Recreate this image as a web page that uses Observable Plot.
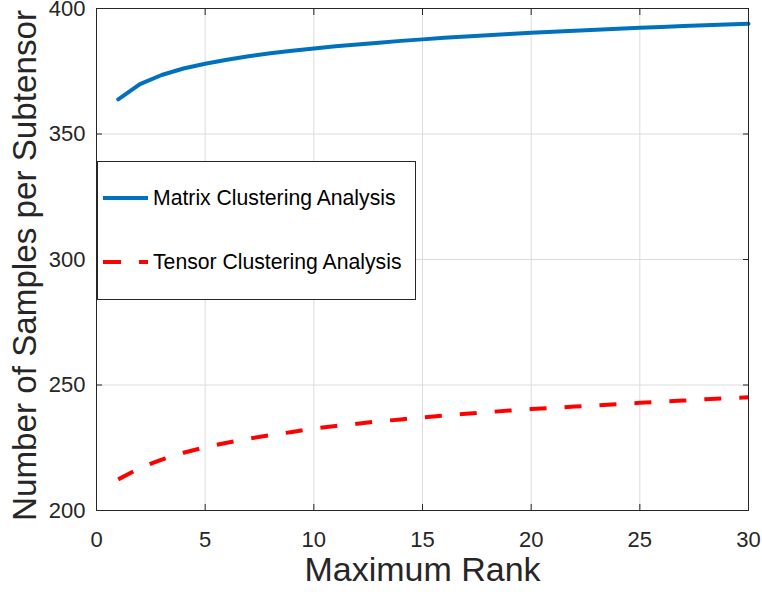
<!DOCTYPE html>
<html>
<head>
<meta charset="utf-8">
<script src="https://cdn.jsdelivr.net/npm/d3@7"></script>
<script src="https://cdn.jsdelivr.net/npm/@observablehq/plot@0.6"></script>
<style>
  html, body { margin: 0; padding: 0; background: #fff; }
  #wrap { position: relative; width: 762px; height: 592px; font-family: "Liberation Sans", Arial, Helvetica, sans-serif; }
  #wrap svg { overflow: visible; }
  #legend { position: absolute; left: 97px; top: 161px; width: 319px; height: 139px; border: 1px solid #262626; background: #fff; box-sizing: border-box; }
  .row { position: absolute; left: 5px; display: flex; align-items: center; font-size: 21.2px; color: #000; white-space: nowrap; }
  .row svg { margin-right: 5px; }
</style>
</head>
<body>
<div id="wrap"></div>
<script>
const ranks = d3.range(1, 31);
const matrixValues = [363.8, 369.9, 373.5, 376.1, 378.0, 379.6, 381.0, 382.2, 383.2, 384.1,
  385.0, 385.7, 386.4, 387.1, 387.7, 388.3, 388.8, 389.3, 389.8, 390.3,
  390.7, 391.1, 391.5, 391.9, 392.3, 392.6, 393.0, 393.3, 393.6, 393.9];
const tensorValues = [212.4, 217.0, 220.3, 223.0, 225.2, 227.0, 228.6, 230.0, 231.3, 232.7,
  233.7, 234.6, 235.5, 236.3, 237.1, 237.8, 238.5, 239.2, 239.8, 240.4,
  240.9, 241.4, 241.9, 242.4, 242.9, 243.4, 243.8, 244.3, 244.7, 245.1];
const seriesNames = ["Matrix Clustering Analysis", "Tensor Clustering Analysis"];
const xTicks = [0, 5, 10, 15, 20, 25, 30];
const yTicks = [200, 250, 300, 350, 400];
const xLabel = "Maximum Rank";
const yLabel = "Number of Samples per Subtensor";

const matrix = ranks.map((r, i) => ({rank: r, value: matrixValues[i]}));
const tensor = ranks.map((r, i) => ({rank: r, value: tensorValues[i]}));

const axisColor = "#262626";
const chart = Plot.plot({
  width: 762,
  height: 592,
  marginLeft: 96,
  marginRight: 14,
  marginTop: 8,
  marginBottom: 82,
  style: {fontFamily: "'Liberation Sans', Arial, Helvetica, sans-serif", background: "#fff", overflow: "visible"},
  x: {domain: [0, 30]},
  y: {domain: [200, 400]},
  marks: [
    Plot.gridX(xTicks, {stroke: "#dcdcdc", strokeOpacity: 1, strokeWidth: 1}),
    Plot.gridY(yTicks, {stroke: "#dcdcdc", strokeOpacity: 1, strokeWidth: 1}),
    Plot.line(matrix, {x: "rank", y: "value", stroke: "#0072BD", strokeWidth: 4}),
    Plot.line(tensor, {x: "rank", y: "value", stroke: "#FF0000", strokeWidth: 4, strokeDasharray: "17 18", strokeLinecap: "butt"}),
    Plot.frame({stroke: axisColor, strokeWidth: 1}),
    Plot.axisX(xTicks, {anchor: "bottom", tickSize: -6, tickPadding: 27, fontSize: 22, fill: "#262626", stroke: axisColor, label: null}),
    Plot.axisX(xTicks, {anchor: "top", tickSize: -6, text: null, stroke: axisColor, label: null}),
    Plot.axisY(yTicks, {anchor: "left", tickSize: -6, tickPadding: 17, fontSize: 22, fill: "#262626", stroke: axisColor, label: null}),
    Plot.axisY(yTicks, {anchor: "right", tickSize: -6, text: null, stroke: axisColor, label: null}),
    Plot.text([xLabel], {frameAnchor: "bottom", dy: 70, fontSize: 34, fill: "#262626"}),
    Plot.text([yLabel], {frameAnchor: "left", dx: -71, dy: 6, rotate: -90, textAnchor: "middle", fontSize: 33.2, fill: "#262626"})
  ]
});

const wrap = document.getElementById("wrap");
wrap.appendChild(chart);

const legend = document.createElement("div");
legend.id = "legend";
legend.innerHTML = `
  <div class="row" style="top:24px">
    <svg width="45" height="10"><line x1="0" y1="5" x2="45" y2="5" stroke="#0072BD" stroke-width="4"/></svg>
    <span>${seriesNames[0]}</span>
  </div>
  <div class="row" style="top:88px">
    <svg width="45" height="10"><line x1="0" y1="5" x2="45" y2="5" stroke="#FF0000" stroke-width="4" stroke-dasharray="18 18"/></svg>
    <span>${seriesNames[1]}</span>
  </div>`;
wrap.appendChild(legend);
</script>
</body>
</html>
